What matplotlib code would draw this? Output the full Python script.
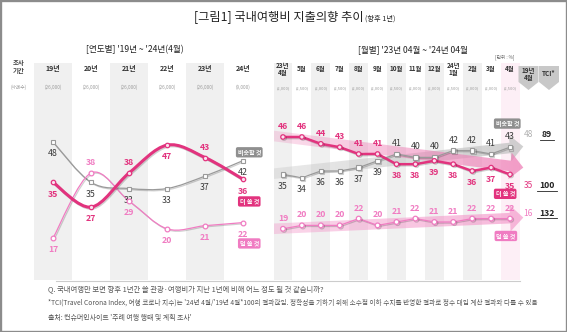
import numpy as np
import matplotlib.pyplot as plt
import matplotlib.patheffects as pe
from matplotlib.path import Path
from matplotlib.patches import PathPatch, Polygon, Rectangle, FancyArrowPatch
from matplotlib.colors import to_rgb
from matplotlib.lines import Line2D
from matplotlib.transforms import blended_transform_factory

plt.rcParams['font.family'] = ['Noto Sans CJK KR', 'DejaVu Sans']

# 연도별 ('19년 ~ '24년 4월)
years = ['19년', '20년', '21년', '22년', '23년', '24년']
year_n = ['(26,000)', '(26,000)', '(26,000)', '(26,000)', '(26,000)', '(9,000)']
year_more = [35, 27, 38, 47, 43, 36]
year_same = [48, 35, 33, 33, 37, 42]
year_less = [17, 38, 29, 20, 21, 22]

# 월별 ('23년 4월 ~ '24년 4월)
months = ['23년\n4월', '5월', '6월', '7월', '8월', '9월', '10월', '11월', '12월',
          '24년\n1월', '2월', '3월', '4월']
month_n = ['(2,000)', '(2,500)', '(2,000)', '(2,500)', '(2,000)', '(2,000)', '(2,500)',
           '(2,000)', '(2,000)', '(2,500)', '(2,000)', '(2,000)', '(2,500)']
month_more = [46, 46, 44, 43, 41, 41, 38, 38, 39, 38, 36, 37, 35]
month_same = [35, 34, 36, 36, 37, 39, 41, 40, 40, 42, 42, 41, 43]
month_less = [19, 20, 20, 20, 22, 20, 21, 22, 21, 21, 22, 22, 22]

# 추세 화살표 (시작값, 끝값)
trend_more = (46.3, 37.0)
trend_same = (35.2, 43.2)
trend_less = (19.0, 22.3)

# '19년 4월 값과 TCI (비슷할 것, 더 쓸 것, 덜 쓸 것)
base_1904 = ['48', '35', '16']
tci = ['89', '100', '132']

PINK = '#E2337E'
LPINK = '#F07CC2'
GRAY = '#9a9a9a'
BAND = '#F0F0F0'

W, H = 567, 332
fig = plt.figure(figsize=(W / 100, H / 100), dpi=100)


def fx(px):
    return px / W


def fy(py):
    return 1 - py / H


def ftext(x, y, s, **kw):
    kw.setdefault('ha', 'center')
    kw.setdefault('va', 'center')
    return fig.text(fx(x), fy(y), s, **kw)


def smooth_path(xs, ys):
    # Catmull-Rom 방식의 부드러운 곡선을 베지어 경로로 변환
    pts = np.column_stack([xs, ys]).astype(float)
    n = len(pts)
    verts = [pts[0]]
    codes = [Path.MOVETO]
    for i in range(n - 1):
        p0 = pts[i - 1] if i > 0 else pts[i]
        p1, p2 = pts[i], pts[i + 1]
        p3 = pts[i + 2] if i + 2 < n else pts[i + 1]
        verts += [p1 + (p2 - p0) / 6, p2 - (p3 - p1) / 6, p2]
        codes += [Path.CURVE4] * 3
    return Path(verts, codes)


shadow = [pe.SimpleLineShadow(offset=(0.8, -0.8), alpha=0.18), pe.Normal()]


def value_labels(ax, xs, ys, where, color, weight):
    for x, y, w in zip(xs, ys, where):
        dy = 7.5 if w == 'a' else -8.5
        ax.annotate(str(y), (x, y), xytext=(0, dy), textcoords='offset points',
                    ha='center', va='center', fontsize=6.3, color=color,
                    fontweight=weight, annotation_clip=False)


def tag(ax, x, y, s, color, dx, dy):
    ax.annotate(s, (x, y), xytext=(dx, dy), textcoords='offset points',
                ha='center', va='center', fontsize=4.3, color='white',
                fontweight='bold', annotation_clip=False,
                bbox=dict(boxstyle='round,pad=0.28,rounding_size=0.3', fc=color, ec='none'))


def gradient_arrow(ax, start, end, color, a0, a1):
    # 왼쪽은 옅고 화살촉 쪽으로 갈수록 진해지는 반투명 화살표
    arrow = FancyArrowPatch(start, end, arrowstyle='simple,head_length=1.2,head_width=2.4,tail_width=0.95',
                            mutation_scale=8, fc='none', ec='none', shrinkA=0, shrinkB=0,
                            clip_on=False)
    ax.add_patch(arrow)
    grad = np.zeros((1, 200, 4))
    grad[..., :3] = to_rgb(color)
    grad[..., 3] = np.linspace(a0, a1, 200)
    ylo, yhi = ax.get_ylim()
    img = ax.imshow(grad, extent=[start[0], end[0] + 0.1, ylo, yhi], aspect='auto',
                    interpolation='bilinear', zorder=1)
    img.set_clip_path(arrow)
    img.set_clip_box(fig.bbox)


# 제목
ftext(364, 21, '[그림1] 국내여행비 지출의향 추이', ha='right', va='baseline',
      fontsize=8.8, color='#222222')
ftext(365, 21, '(향후 1년)', ha='left', va='baseline', fontsize=5.2, color='#222222')
ftext(135, 50, "[연도별] '19년 ~ '24년(4월)", fontsize=6.2, color='#222222')
ftext(413, 50, "[월별] '23년 04월 ~ '24년 04월", fontsize=6.2, color='#222222')
ftext(505, 57, '[단위 : %]', fontsize=3.4, color='#666666')

ftext(19, 62, '조사', fontsize=4.6, color='#444444', fontweight='bold')
ftext(19, 71, '기간', fontsize=4.6, color='#444444', fontweight='bold')
ftext(19, 87, '(사례수)', fontsize=3.4, color='#999999')

# ----- 연도별 -----
ax1 = fig.add_axes([fx(34), fy(280), fx(228), 217 / H])
ax1.set_xlim(-0.5, 5.5)
ax1.set_ylim(3.48, 73.5)
ax1.axis('off')
xy = np.arange(len(years))
for i in xy:
    if i % 2 == 0:
        ax1.axvspan(i - 0.5, i + 0.5, color=BAND, lw=0, zorder=0)

t1 = blended_transform_factory(ax1.transData, fig.transFigure)
for i, (lab, n) in enumerate(zip(years, year_n)):
    ax1.text(i, fy(69), lab, transform=t1, ha='center', va='center',
             fontsize=5, fontweight='bold', color='#333333')
    ax1.text(i, fy(87), n, transform=t1, ha='center', va='center',
             fontsize=3.3, color='#9a9a9a')

ax1.add_patch(PathPatch(smooth_path(xy, year_same), fill=False, ec=GRAY, lw=0.9,
                        zorder=3, path_effects=shadow))
ax1.add_patch(PathPatch(smooth_path(xy, year_less), fill=False, ec=LPINK, lw=0.9,
                        zorder=3, path_effects=shadow))
ax1.add_patch(PathPatch(smooth_path(xy, year_more), fill=False, ec=PINK, lw=2.2,
                        zorder=4, path_effects=shadow))
ax1.plot(xy, year_same, ls='none', marker='s', ms=3.2, mfc='white', mec=GRAY, mew=0.8, zorder=5)
ax1.plot(xy, year_less, ls='none', marker='o', ms=3.4, mfc='white', mec=LPINK, mew=0.9, zorder=5)
ax1.plot(xy, year_more, ls='none', marker='o', ms=3.2, mfc='#FBE0EE', mec=PINK, mew=0.9, zorder=6)

value_labels(ax1, xy, year_more, 'bbabab', PINK, 'bold')
value_labels(ax1, xy, year_same, 'bbbbbb', '#3a3a3a', 'normal')
value_labels(ax1, xy, year_less, 'babbbb', LPINK, 'bold')

tag(ax1, xy[-1], year_same[-1], '비슷할 것', '#8f8f8f', 4.5, 6)
tag(ax1, xy[-1], year_more[-1], '더 쓸 것', PINK, 4.5, -16)
tag(ax1, xy[-1], year_less[-1], '덜 쓸 것', LPINK, 4.5, -15)

# ----- 월별 -----
ax2 = fig.add_axes([fx(273.5), fy(280), fx(246), 217 / H])
ax2.set_xlim(-0.5, 12.5)
ax2.set_ylim(3.94, 67.76)
ax2.axis('off')
xm = np.arange(len(months))
for i in xm:
    if i == len(months) - 1:
        ax2.axvspan(i - 0.5, i + 0.5, color='#FDEFF6', lw=0, zorder=0)
    elif i % 2 == 0:
        ax2.axvspan(i - 0.5, i + 0.5, color=BAND, lw=0, zorder=0)

t2 = blended_transform_factory(ax2.transData, fig.transFigure)
for i, (lab, n) in enumerate(zip(months, month_n)):
    ax2.text(i, fy(69), lab, transform=t2, ha='center', va='center',
             fontsize=4.6, fontweight='bold', color='#333333', linespacing=0.95)
    ax2.text(i, fy(88), n, transform=t2, ha='center', va='center',
             fontsize=2.9, color='#9a9a9a')

# 추세 화살표
x0, x1 = -0.5, 12.7
gradient_arrow(ax2, (x0, trend_same[0]), (x1, trend_same[1]), '#C4C4C4', 0.35, 0.8)
gradient_arrow(ax2, (x0, trend_more[0]), (x1, trend_more[1]), '#EE7FB6', 0.25, 0.75)
gradient_arrow(ax2, (x0, trend_less[0]), (x1, trend_less[1]), '#F49ACB', 0.4, 0.7)
ax2.set_xlim(-0.5, 12.5)
ax2.set_ylim(3.94, 67.76)

ax2.plot(xm, month_same, color=GRAY, lw=0.9, marker='s', ms=3.2, mfc='white', mec=GRAY,
         mew=0.8, zorder=3, path_effects=shadow)
ax2.plot(xm, month_less, color=LPINK, lw=0.9, marker='o', ms=3.4, mfc='white', mec=LPINK,
         mew=0.9, zorder=3, path_effects=shadow)
ax2.plot(xm, month_more, color=PINK, lw=1.8, marker='o', ms=3.2, mfc='#FBE0EE', mec=PINK,
         mew=0.9, zorder=4, path_effects=shadow)

value_labels(ax2, xm, month_more, 'aaaaaabbbbbbb', PINK, 'bold')
value_labels(ax2, xm, month_same, 'bbbbbbaaaaaaa', '#3a3a3a', 'normal')
value_labels(ax2, xm, month_less, 'a' * 13, LPINK, 'bold')

tag(ax2, xm[-1], month_same[-1], '비슷할 것', '#8f8f8f', -2, 17)
tag(ax2, xm[-1], month_more[-1], '더 쓸 것', PINK, -3.5, -14)
tag(ax2, xm[-1], month_less[-1], '덜 쓸 것', LPINK, -3, -12.5)

# '19년 4월 / TCI 머리표
for cx, lab in [(528.5, '19년\n4월'), (549, 'TCI*')]:
    fig.add_artist(Polygon([(fx(cx - 10), fy(66)), (fx(cx + 10), fy(66)), (fx(cx + 10), fy(82)),
                            (fx(cx), fy(90)), (fx(cx - 10), fy(82))],
                           closed=True, transform=fig.transFigure, fc='#C8C8C8', ec='none'))
    ftext(cx, 74, lab, fontsize=4.6, fontweight='bold', color='#333333', linespacing=0.95)

for y, b, t, c in zip([135, 186, 213], base_1904, tci, ['#b0b0b0', PINK, LPINK]):
    ftext(528, y, b, fontsize=6, fontstyle='italic', color=c)
    ftext(547, y, t, fontsize=6.2, fontweight='bold', color='#222222')
    hw = 3.3 * len(t)
    fig.add_artist(Line2D([fx(547 - hw), fx(547 + hw)], [fy(y + 5)] * 2,
                          transform=fig.transFigure, color='#222222', lw=0.6))

# 하단 구분선과 주석
fig.add_artist(Line2D([fx(56), fx(520)], [fy(281)] * 2, transform=fig.transFigure,
                      color='#cccccc', lw=0.8))
ftext(48, 289, 'Q. 국내여행만 보면 향후 1년간 쓸 관광·여행비가 지난 1년에 비해 어느 정도 될 것 같습니까?',
      ha='left', fontsize=5.3, color='#555555')
ftext(48, 303, "*TCI(Travel Corona Index, 여행 코로나 지수)는 '24년 4월/'19년 4월*100의 결과값임. "
      "정확성을 기하기 위해 소수점 이하 수치를 반영한 결과로 정수 대입 계산 결과와 다를 수 있음",
      ha='left', fontsize=4.75, color='#555555')
ftext(48, 318, "출처: 컨슈머인사이트 '주례 여행 행태 및 계획 조사'", ha='left', fontsize=5.0, color='#555555')

fig.add_artist(Rectangle((0, 0), 1, 1, transform=fig.transFigure, fill=False,
                         ec='#8c8c8c', lw=2.4))

fig.savefig('out.png', dpi=100, facecolor='white')
